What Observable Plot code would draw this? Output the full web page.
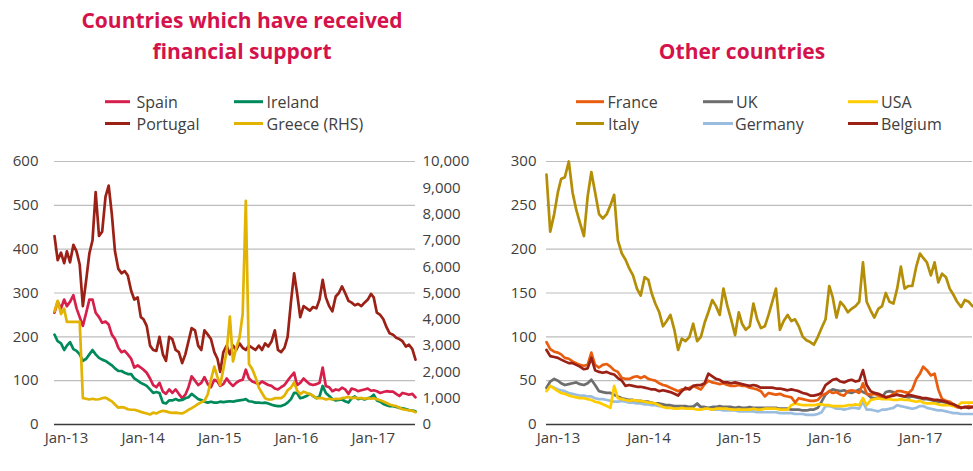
<!DOCTYPE html>
<html>
<head>
<meta charset="utf-8">
<script src="https://cdn.jsdelivr.net/npm/d3@7"></script>
<script src="https://cdn.jsdelivr.net/npm/@observablehq/plot@0.6"></script>
<style>
  html, body { margin: 0; padding: 0; background: #fff; }
  #wrap { position: relative; width: 973px; height: 471px; overflow: hidden; font-family: "Open Sans", sans-serif; }
  #left { position: absolute; left: 0; top: 140px; }
  #right { position: absolute; left: 490px; top: 140px; }
  #overlay { position: absolute; left: 0; top: 0; }
</style>
</head>
<body>
<div id="wrap">
  <div id="left"></div>
  <div id="right"></div>
  <svg id="overlay" width="973" height="140"></svg>
</div>
<script>
// ---- Data: semi-monthly samples, Jan 2013 to mid-Sep 2017 (5-year CDS, bp) ----
const nPoints = 114;
const dates = d3.range(nPoints).map(i => new Date(Date.UTC(2013, Math.floor(i / 2), i % 2 ? 16 : 1)));

const spain = [255,280,265,285,270,280,295,265,245,225,255,285,285,255,245,232,235,228,205,195,175,165,168,160,150,130,135,130,125,118,105,90,85,95,75,70,80,72,80,70,60,68,85,110,100,90,95,108,92,85,102,98,88,92,105,95,88,95,100,102,125,105,98,95,92,98,94,90,88,82,80,85,90,100,110,118,90,95,105,98,92,90,92,95,130,88,85,76,80,78,84,80,70,82,80,76,78,80,82,77,78,76,72,74,76,75,75,70,65,72,70,68,70,62];
const portugal = [430,375,392,368,395,370,410,395,365,270,330,390,420,530,430,440,520,545,480,395,355,345,350,340,305,285,290,245,240,225,180,170,168,200,160,145,200,195,170,165,140,160,190,220,215,180,170,215,205,195,165,150,120,165,180,160,180,170,185,175,170,180,175,170,180,170,185,178,190,215,170,165,175,200,280,345,300,245,270,265,260,268,265,285,330,290,270,258,292,300,315,300,282,278,272,275,270,278,285,298,290,255,250,240,222,208,205,198,195,190,178,182,172,148];
const ireland = [205,190,185,170,180,188,172,168,160,145,150,160,170,160,152,148,145,140,135,128,122,122,118,115,115,105,100,95,92,88,80,72,74,72,50,48,55,55,58,55,56,60,62,70,64,58,56,52,50,52,50,50,52,51,52,53,52,54,55,56,58,53,52,50,50,49,50,48,45,43,42,42,45,50,58,72,72,60,62,65,70,65,60,64,88,72,65,58,55,56,57,53,50,60,64,58,60,57,60,62,68,55,52,47,44,42,42,40,38,37,35,33,32,30];
const greece = [4300,4700,4200,4400,3900,3900,3900,3900,3900,1000,980,950,980,950,960,1000,1020,950,880,760,640,660,640,580,560,560,520,480,450,420,380,450,420,480,520,500,460,440,450,430,420,480,560,620,700,780,850,900,1150,1700,2200,1800,1500,2100,2800,4100,2400,2900,3300,4200,8500,2300,2100,1800,1400,1200,1000,950,950,1000,1000,1000,1100,1300,1400,1600,1300,1150,1250,1200,1150,1100,1000,1000,1000,950,980,950,980,970,1000,1020,1050,1000,1020,1000,1000,980,1000,980,1000,960,920,870,820,760,720,700,640,580,560,540,520,470];

const france = [94,86,83,82,80,76,75,72,70,68,67,68,82,68,65,68,69,66,62,60,53,52,52,54,55,53,55,52,51,50,47,45,44,42,40,38,40,40,42,44,42,40,46,50,48,47,46,47,45,44,44,45,44,44,42,41,40,38,32,36,35,34,35,33,32,31,25,30,29,28,27,27,28,33,35,38,36,37,34,33,38,39,38,36,47,35,34,35,33,32,31,32,35,38,38,37,36,40,52,58,66,62,56,58,40,29,27,26,23,20,19,20,21,20];
const uk = [42,49,52,50,47,45,46,47,48,46,45,47,51,45,38,37,36,36,34,32,30,29,28,28,27,27,26,26,25,24,24,23,22,22,21,21,21,21,20,20,24,20,20,19,20,20,21,20,20,20,19,20,19,19,20,19,19,19,19,19,19,19,18,18,18,17,17,17,16,16,17,17,19,26,34,38,40,39,38,39,37,36,38,40,37,35,31,30,30,31,37,38,37,34,33,32,31,32,31,30,29,29,28,27,26,26,25,23,22,20,19,20,19,20];
const usa = [38,44,41,38,36,35,33,32,31,30,30,29,28,26,25,23,21,19,44,30,29,28,27,28,27,27,26,25,25,24,22,20,19,19,18,18,19,18,18,18,17,17,18,18,17,18,18,18,18,17,17,17,17,17,17,18,17,17,18,18,18,18,17,17,17,22,24,23,22,22,22,22,23,23,22,22,21,21,21,21,22,22,23,22,30,22,28,29,30,29,29,29,28,28,29,28,28,27,26,27,25,24,24,24,23,22,22,22,21,20,25,25,25,25];
const italy = [285,220,240,265,280,282,300,265,245,230,215,260,288,265,240,235,240,250,262,210,195,188,178,170,155,147,168,165,150,138,128,112,118,125,108,85,98,95,100,115,95,100,116,128,142,135,125,155,135,120,102,128,115,108,112,138,120,110,112,125,140,155,108,118,125,118,120,112,100,96,94,91,100,110,120,158,145,122,140,135,128,132,135,140,185,140,130,122,132,135,150,140,138,155,180,155,158,158,180,195,190,185,170,185,162,172,168,155,148,140,134,142,140,135];
const germany = [41,44,42,40,39,38,36,35,34,33,33,32,32,30,29,29,28,27,26,26,27,26,25,25,24,24,23,23,22,22,21,21,20,20,19,19,19,19,20,21,23,19,18,18,17,17,17,16,16,16,16,15,15,15,15,15,14,14,14,14,14,14,13,13,13,13,12,12,12,11,11,11,12,14,21,21,20,18,18,17,18,19,19,18,26,17,17,16,15,17,17,18,19,22,21,20,19,18,19,21,21,19,18,17,16,16,15,14,13,13,12,12,12,12];
const belgium = [85,78,77,76,74,72,70,70,68,66,63,64,76,62,60,59,60,58,57,53,50,44,45,44,43,43,42,41,40,40,38,39,38,37,35,33,38,42,40,44,45,45,47,58,55,52,51,48,48,47,48,47,46,45,44,45,44,42,42,42,42,41,41,40,39,40,39,38,36,35,33,33,34,36,45,48,51,52,49,48,50,51,49,50,62,45,38,36,35,33,31,32,33,34,33,32,34,33,32,31,30,30,29,28,28,27,26,24,23,21,19,20,19,20];

const leftTicks = [0, 100, 200, 300, 400, 500, 600];
const greeceTicks = [0, 1000, 2000, 3000, 4000, 5000, 6000, 7000, 8000, 9000, 10000];
const rightTicks = [0, 50, 100, 150, 200, 250, 300];
const xTicks = [2013, 2014, 2015, 2016, 2017].map(y => new Date(Date.UTC(y, 0, 1)));

const leftSeries = [
  {name: "Portugal", values: portugal, color: "#9b2116", scale: 1},
  {name: "Spain", values: spain, color: "#d71f4b", scale: 1},
  {name: "Ireland", values: ireland, color: "#008a5c", scale: 1},
  {name: "Greece (RHS)", values: greece, color: "#e2b300", scale: 600 / 10000}
];
const rightSeries = [
  {name: "Italy", values: italy, color: "#b38e06"},
  {name: "Germany", values: germany, color: "#9abddf"},
  {name: "UK", values: uk, color: "#6e6e6e"},
  {name: "USA", values: usa, color: "#ffcc00"},
  {name: "France", values: france, color: "#e95d0f"},
  {name: "Belgium", values: belgium, color: "#9b2116"}
];

function rows(s) {
  return s.values.map((v, i) => ({date: dates[i], value: v * (s.scale || 1)}));
}

const common = {
  style: {fontFamily: "Open Sans", fontSize: "15px", color: "#404040", background: "transparent", overflow: "visible"}
};
const xDomain = [dates[0], dates[nPoints - 1]];
const lw = 2.7;

const leftPlot = Plot.plot({
  ...common,
  width: 490, height: 324,
  marginLeft: 54, marginRight: 75, marginTop: 21, marginBottom: 40,
  x: {type: "utc", domain: xDomain},
  y: {domain: [0, 600]},
  marks: [
    Plot.gridY(leftTicks.filter(d => d > 0), {stroke: "#bdbdbd", strokeOpacity: 1, strokeWidth: 1.2}),
    Plot.axisY(leftTicks, {anchor: "left", tickSize: 0, tickPadding: 16, label: null, fill: "#404040"}),
    Plot.axisY(greeceTicks.map(g => g * 600 / 10000), {anchor: "right", tickSize: 0, tickPadding: 7, label: null, fill: "#404040",
      tickFormat: d => d3.format(",")(Math.round(d * 10000 / 600))}),
    Plot.axisX(xTicks, {tickSize: 0, tickPadding: 8, label: null, dx: 12, fill: "#404040", tickFormat: d3.utcFormat("%b-%y")}),
    ...leftSeries.map(s => Plot.line(rows(s), {x: "date", y: "value", stroke: s.color, strokeWidth: lw, strokeLinejoin: "round"})),
    Plot.ruleY([0], {stroke: "#3a3a3a", strokeWidth: 1.5})
  ]
});
document.getElementById("left").appendChild(leftPlot);

const rightPlot = Plot.plot({
  ...common,
  width: 483, height: 324,
  marginLeft: 56, marginRight: 1, marginTop: 21, marginBottom: 40,
  x: {type: "utc", domain: xDomain},
  y: {domain: [0, 300]},
  marks: [
    Plot.gridY(rightTicks.filter(d => d > 0), {stroke: "#bdbdbd", strokeOpacity: 1, strokeWidth: 1.2}),
    Plot.axisY(rightTicks, {anchor: "left", tickSize: 0, tickPadding: 10, label: null, fill: "#404040"}),
    Plot.axisX(xTicks, {tickSize: 0, tickPadding: 8, label: null, dx: 12, fill: "#404040", tickFormat: d3.utcFormat("%b-%y")}),
    ...rightSeries.map(s => Plot.line(rows(s), {x: "date", y: "value", stroke: s.color, strokeWidth: lw, strokeLinejoin: "round"})),
    Plot.ruleY([0], {stroke: "#3a3a3a", strokeWidth: 1.5})
  ]
});
document.getElementById("right").appendChild(rightPlot);

// ---- Titles and legends ----
const ov = d3.select("#overlay");
const titleColor = "#d4124b";
function title(x, y, t) {
  ov.append("text").attr("x", x).attr("y", y).attr("text-anchor", "middle")
    .attr("font-family", "Open Sans").attr("font-weight", 700).attr("font-size", 21)
    .attr("fill", titleColor).text(t);
}
title(242, 28, "Countries which have received");
title(242, 58.5, "financial support");
title(742, 59, "Other countries");

const legendItems = [
  {name: "Spain", color: "#d71f4b", x0: 105, x1: 130, tx: 136.5, row: 0},
  {name: "Portugal", color: "#9b2116", x0: 105, x1: 130, tx: 136.5, row: 1},
  {name: "Ireland", color: "#008a5c", x0: 234, x1: 263, tx: 266.5, row: 0},
  {name: "Greece (RHS)", color: "#e2b300", x0: 234, x1: 263, tx: 266.5, row: 1},
  {name: "France", color: "#e95d0f", x0: 576, x1: 604, tx: 607.5, row: 0},
  {name: "Italy", color: "#b38e06", x0: 576, x1: 604, tx: 608, row: 1},
  {name: "UK", color: "#6e6e6e", x0: 703, x1: 733, tx: 736, row: 0},
  {name: "Germany", color: "#9abddf", x0: 703, x1: 733, tx: 735, row: 1},
  {name: "USA", color: "#ffcc00", x0: 848, x1: 878, tx: 881, row: 0},
  {name: "Belgium", color: "#9b2116", x0: 848, x1: 878, tx: 881, row: 1}
];
const rowY = [101.7, 123.5];
for (const it of legendItems) {
  const y = rowY[it.row];
  ov.append("line").attr("x1", it.x0).attr("x2", it.x1).attr("y1", y).attr("y2", y)
    .attr("stroke", it.color).attr("stroke-width", 3);
  ov.append("text").attr("x", it.tx).attr("y", y + 6).attr("font-family", "Open Sans")
    .attr("font-size", 16).attr("fill", "#404040").text(it.name);
}
</script>
</body>
</html>
